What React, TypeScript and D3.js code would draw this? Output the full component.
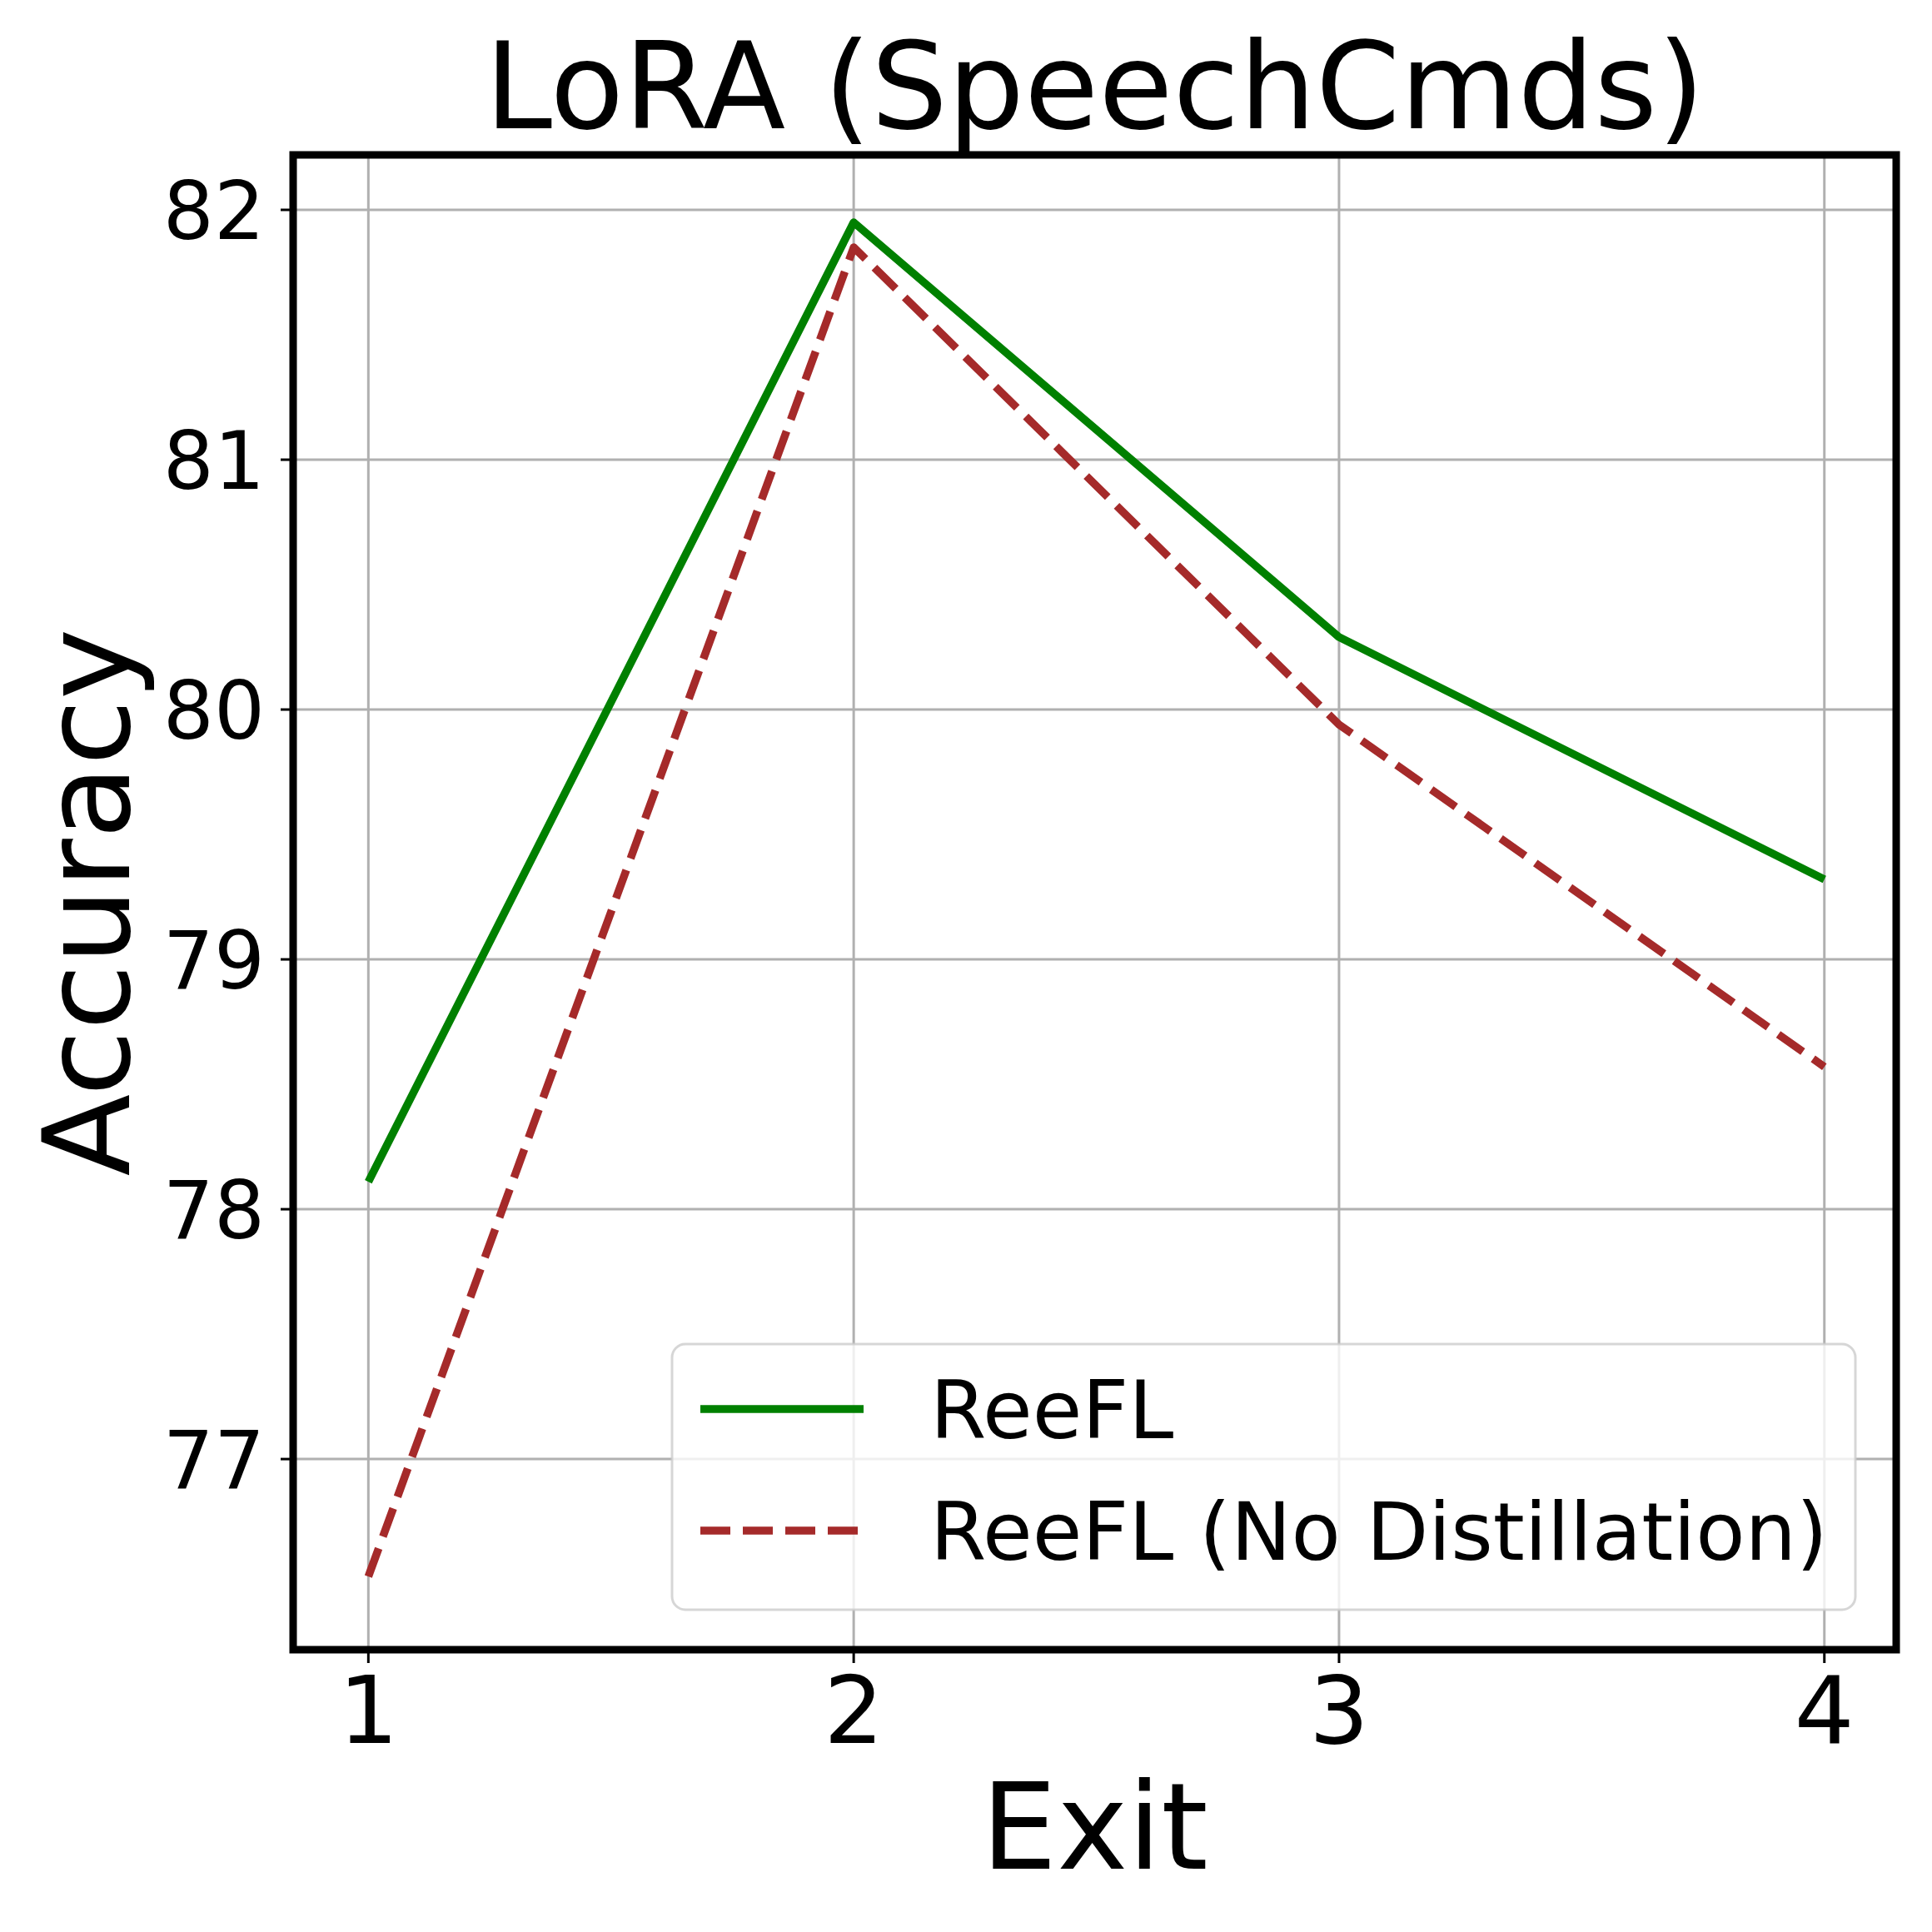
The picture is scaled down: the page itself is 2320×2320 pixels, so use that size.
import React from "react";
import * as d3 from "d3";

const exits = [1, 2, 3, 4];
const reeflValues = [78.11, 81.95, 80.29, 79.32];
const noDistValues = [76.53, 81.85, 79.94, 78.57];
const yTicks = [77, 78, 79, 80, 81, 82];
const xTicks = [1, 2, 3, 4];
const seriesNames = ["ReeFL", "ReeFL (No Distillation)"];

const W = 2320;
const H = 2320;
const FONT = "DejaVu Sans, Verdana, sans-serif";

export default function App() {
  const left = 352, right = 2277, top = 186, bottom = 1981;
  const x = d3.scaleLinear().domain([0.845, 4.148]).range([left, right]);
  const y = d3.scaleLinear().domain([76.237, 82.22]).range([bottom, top]);

  const line = d3
    .line<number>()
    .x((_, i) => x(exits[i]))
    .y((d) => y(d));

  const lw = 9.5;
  const dash = "36,15";

  return (
    <svg
      width={W}
      height={H}
      viewBox={`0 0 ${W} ${H}`}
      style={{ position: "absolute", left: 0, top: 0, background: "#fff" }}
      fontFamily={FONT}
    >
      <rect x={0} y={0} width={W} height={H} fill="#fff" />
      {/* grid */}
      {xTicks.map((t) => (
        <line key={"gx" + t} x1={x(t)} x2={x(t)} y1={top} y2={bottom} stroke="#b0b0b0" strokeWidth={3} />
      ))}
      {yTicks.map((t) => (
        <line key={"gy" + t} x1={left} x2={right} y1={y(t)} y2={y(t)} stroke="#b0b0b0" strokeWidth={3} />
      ))}
      {/* series */}
      <path d={line(reeflValues) || ""} fill="none" stroke="#008000" strokeWidth={lw} strokeLinejoin="round" />
      <path
        d={line(noDistValues) || ""}
        fill="none"
        stroke="#a52a2a"
        strokeWidth={lw}
        strokeDasharray={dash}
        strokeLinejoin="round"
      />
      {/* ticks */}
      {yTicks.map((t) => (
        <g key={"ty" + t}>
          <line x1={left - 15} x2={left} y1={y(t)} y2={y(t)} stroke="#000" strokeWidth={3} />
          <text x={318} y={y(t) + 35} fontSize={96} textAnchor="end" fill="#000">
            {t}
          </text>
        </g>
      ))}
      {xTicks.map((t) => (
        <g key={"tx" + t}>
          <line x1={x(t)} x2={x(t)} y1={bottom} y2={bottom + 16} stroke="#000" strokeWidth={3} />
          <text x={x(t)} y={2093} fontSize={113} textAnchor="middle" fill="#000">
            {t}
          </text>
        </g>
      ))}
      {/* spines */}
      <rect x={left} y={top} width={right - left} height={bottom - top} fill="none" stroke="#000" strokeWidth={9} />
      {/* legend */}
      <rect
        x={807}
        y={1614}
        width={2228 - 807}
        height={1933 - 1614}
        rx={16}
        ry={16}
        fill="#fff"
        fillOpacity={0.8}
        stroke="#cccccc"
        strokeOpacity={0.8}
        strokeWidth={3}
      />
      <line x1={841} x2={1037} y1={1692} y2={1692} stroke="#008000" strokeWidth={lw} />
      <text x={1117} y={1727} fontSize={97} fill="#000">
        {seriesNames[0]}
      </text>
      <line x1={841} x2={1037} y1={1838} y2={1838} stroke="#a52a2a" strokeWidth={lw} strokeDasharray={dash} />
      <text x={1117} y={1873} fontSize={97} fill="#000">
        {seriesNames[1]}
      </text>
      {/* title and labels */}
      <text x={(left + right) / 2} y={154} fontSize={145} textAnchor="middle" fill="#000">
        LoRA (SpeechCmds)
      </text>
      <text x={(left + right) / 2} y={2244} fontSize={144} textAnchor="middle" fill="#000">
        Exit
      </text>
      <text
        transform={`translate(155, ${(top + bottom) / 2}) rotate(-90)`}
        fontSize={144}
        textAnchor="middle"
        fill="#000"
      >
        Accuracy
      </text>
    </svg>
  );
}
